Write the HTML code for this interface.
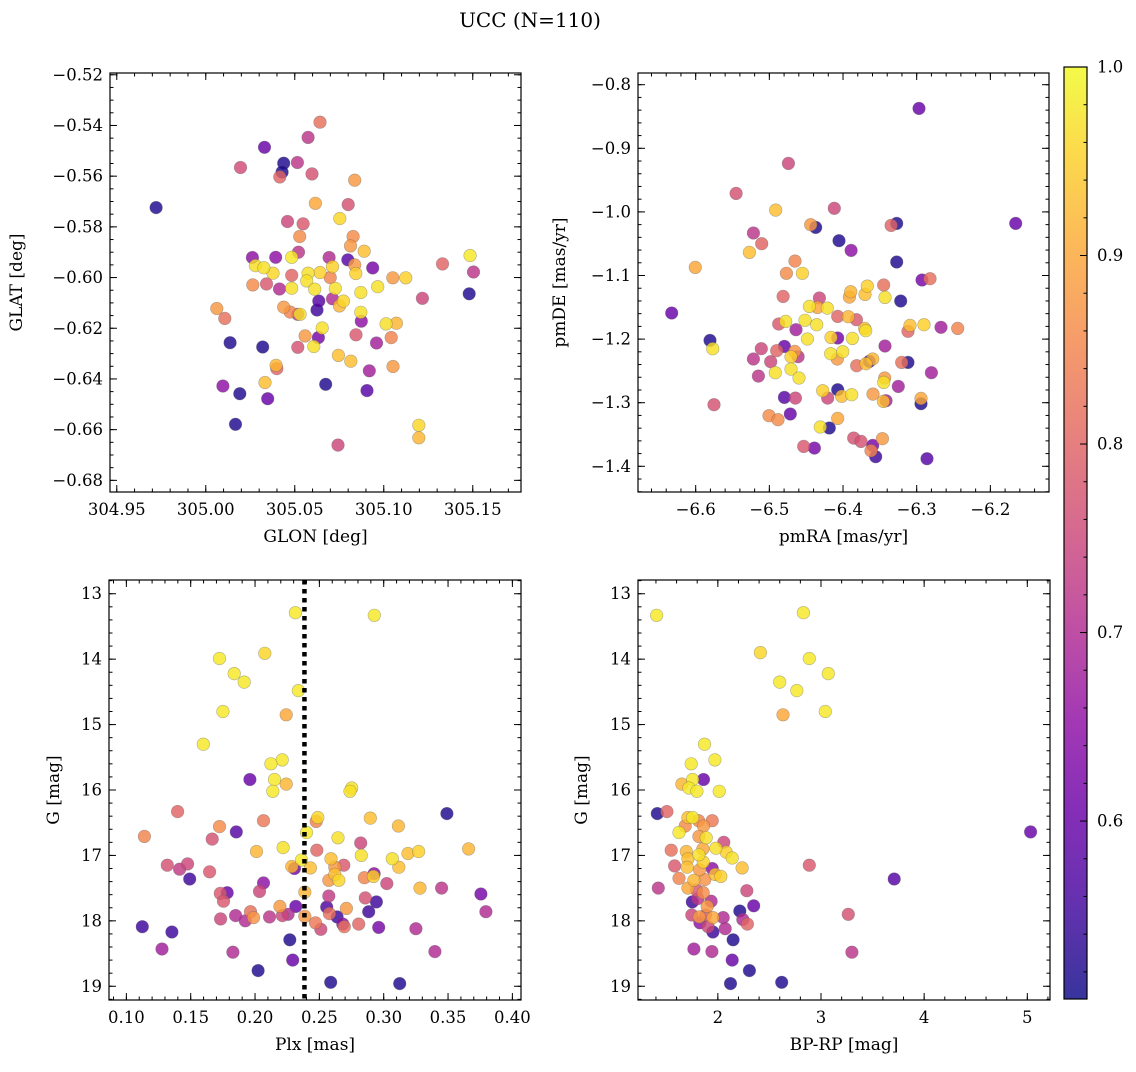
<!DOCTYPE html>
<html><head><meta charset="utf-8"><style>
body{margin:0;background:#fff;}
svg text{font-family:"DejaVu Serif","Liberation Serif",serif;fill:#000;}
</style></head><body>
<svg id="fig" width="1136" height="1067" viewBox="0 0 1136 1067" xmlns="http://www.w3.org/2000/svg">
<rect width="1136" height="1067" fill="#fff"/>
<text x="530" y="27" font-size="20" text-anchor="middle">UCC (N=110)</text>
</svg>
<script>
// ---------- Panel 1: GLON / GLAT ----------
const glonVals=[305.0642,305.0575,305.033,305.0438,305.0515,305.0195,305.0429,305.0416,305.0597,305.0837,304.9721,305.0616,305.080,305.0753,305.0459,305.0547,305.0528,305.0828,305.0813,305.089,305.0521,305.0262,305.0393,305.0483,305.0693,305.0798,305.1485,305.133,305.0279,305.0326,305.0378,305.0712,305.0837,305.0938,305.1504,305.0483,305.0575,305.0642,305.0699,305.0843,305.1051,305.1124,305.0264,305.0341,305.0414,305.0483,305.0567,305.0612,305.0728,305.0871,305.0966,305.148,305.1217,305.0635,305.0712,305.0773,305.0751,305.0438,305.0062,305.0625,305.0474,305.0517,305.053,305.0871,305.0107,305.0874,305.1013,305.1071,305.0654,305.0558,305.0633,305.0844,305.1042,305.0959,305.0137,305.032,305.0517,305.0607,305.0745,305.0815,305.0395,305.0399,305.0919,305.1052,305.0333,305.0674,305.0096,305.0191,305.0348,305.0906,305.0167,305.1197,305.1197,305.0743];
const glatVals=[-0.5387,-0.5447,-0.5486,-0.5549,-0.5546,-0.5566,-0.5584,-0.5603,-0.5591,-0.5616,-0.5724,-0.5707,-0.5712,-0.5767,-0.5779,-0.5788,-0.5838,-0.5838,-0.5875,-0.5896,-0.59,-0.5921,-0.592,-0.592,-0.5921,-0.593,-0.5913,-0.5946,-0.5953,-0.5961,-0.5983,-0.5957,-0.595,-0.5962,-0.5978,-0.5991,-0.5983,-0.598,-0.6,-0.5984,-0.6001,-0.6001,-0.6029,-0.6025,-0.6045,-0.6042,-0.6013,-0.6046,-0.6043,-0.6059,-0.6036,-0.6064,-0.6082,-0.6093,-0.6084,-0.6093,-0.6112,-0.6117,-0.6122,-0.6128,-0.6136,-0.6145,-0.6145,-0.6137,-0.6161,-0.6172,-0.6183,-0.618,-0.6199,-0.623,-0.6237,-0.6226,-0.6237,-0.6258,-0.6257,-0.6274,-0.6275,-0.6272,-0.6307,-0.633,-0.6346,-0.6359,-0.6368,-0.6351,-0.6414,-0.6421,-0.6428,-0.6458,-0.6478,-0.6446,-0.6579,-0.6583,-0.6632,-0.6661];
const prob1=[.82,.72,.6,.52,.72,.76,.52,.8,.77,.88,.52,.9,.77,.96,.75,.78,.86,.86,.88,.93,.72,.65,.65,.98,.7,.58,.98,.8,.97,.97,.96,.95,.88,.62,.72,.8,.97,.95,.85,.95,.88,.95,.86,.78,.7,.97,.97,.97,.97,.97,.97,.52,.75,.58,.7,.96,.92,.88,.88,.55,.85,.72,.97,.97,.82,.65,.97,.92,.97,.88,.62,.78,.85,.68,.52,.52,.77,.97,.93,.93,.92,.8,.68,.88,.93,.52,.65,.52,.6,.58,.52,.96,.92,.75];
const p1XTicks=[304.95,305.00,305.05,305.10,305.15];
const p1XLabels=["304.95","305.00","305.05","305.10","305.15"];
const p1YTicks=[-0.52,-0.54,-0.56,-0.58,-0.60,-0.62,-0.64,-0.66,-0.68];
const p1YLabels=["−0.52","−0.54","−0.56","−0.58","−0.60","−0.62","−0.64","−0.66","−0.68"];

// ---------- Panel 2: pmRA / pmDE ----------
const pmraVals=[-6.2968,-6.4742,-6.5452,-6.4914,-6.4118,-6.1656,-6.4439,-6.4371,-6.3271,-6.3348,-6.5217,-6.5104,-6.5271,-6.4054,-6.3891,-6.4652,-6.3271,-6.6005,-6.4769,-6.4552,-6.2928,-6.2819,-6.3448,-6.367,-6.3896,-6.3914,-6.3701,-6.343,-6.3217,-6.4814,-6.4321,-6.6326,-6.4457,-6.4348,-6.4213,-6.4072,-6.3928,-6.3819,-6.3706,-6.3692,-6.4873,-6.4778,-6.4516,-6.4357,-6.4638,-6.3091,-6.3118,-6.2901,-6.267,-6.2443,-6.5805,-6.5769,-6.5109,-6.4796,-6.4484,-6.4163,-6.4072,-6.3873,-6.343,-6.5217,-6.4982,-6.49,-6.4656,-6.4706,-6.461,-6.4167,-6.4077,-6.4005,-6.3814,-6.3688,-6.3643,-6.3597,-6.3118,-6.3204,-6.5149,-6.4919,-6.4706,-6.4597,-6.2801,-6.3434,-6.3448,-6.325,-6.5751,-6.4796,-6.4647,-6.4276,-6.4208,-6.4072,-6.4018,-6.3882,-6.3593,-6.3452,-6.3416,-6.2941,-6.2941,-6.5005,-6.4882,-6.4715,-6.4072,-6.4186,-6.4308,-6.4534,-6.4389,-6.3855,-6.3756,-6.3597,-6.362,-6.3557,-6.3466,-6.286];
const pmdeVals=[-0.8372,-0.9237,-0.9709,-0.9971,-0.9944,-1.018,-1.0201,-1.0243,-1.018,-1.0212,-1.0332,-1.05,-1.0636,-1.0453,-1.0605,-1.0773,-1.0788,-1.0872,-1.0966,-1.0966,-1.1071,-1.105,-1.115,-1.1166,-1.1255,-1.1339,-1.1297,-1.1344,-1.1401,-1.1328,-1.1354,-1.159,-1.1485,-1.1501,-1.1512,-1.1643,-1.1648,-1.1695,-1.1831,-1.1868,-1.1763,-1.1721,-1.1705,-1.1774,-1.1852,-1.1784,-1.1878,-1.1774,-1.1815,-1.1831,-1.202,-1.2151,-1.2151,-1.2114,-1.1999,-1.1973,-1.1983,-1.1989,-1.2109,-1.2313,-1.2355,-1.2182,-1.2193,-1.2277,-1.2277,-1.223,-1.2313,-1.2198,-1.2418,-1.2387,-1.235,-1.2313,-1.2366,-1.2366,-1.2581,-1.2528,-1.2471,-1.2612,-1.2528,-1.2612,-1.268,-1.2743,-1.3031,-1.2916,-1.2927,-1.2811,-1.2927,-1.2796,-1.29,-1.2874,-1.2864,-1.2979,-1.2969,-1.3016,-1.2932,-1.3204,-1.3267,-1.3178,-1.3246,-1.3398,-1.3382,-1.3687,-1.3713,-1.3556,-1.3608,-1.3671,-1.3755,-1.3849,-1.3566,-1.388];
const prob2=[.6,.75,.77,.93,.75,.6,.88,.52,.52,.8,.72,.8,.93,.52,.65,.85,.52,.9,.86,.95,.62,.82,.82,.95,.92,.9,.93,.97,.52,.8,.75,.6,.97,.9,.97,.8,.92,.78,.93,.97,.78,.97,.97,.97,.68,.93,.8,.95,.68,.85,.52,.97,.75,.6,.97,.95,.62,.97,.68,.72,.75,.8,.87,.95,.72,.97,.88,.97,.82,.93,.55,.92,.52,.82,.72,.97,.97,.97,.68,.88,.97,.68,.77,.58,.75,.95,.75,.52,.93,.97,.88,.93,.68,.52,.9,.86,.86,.6,.9,.52,.97,.78,.62,.77,.77,.62,.85,.55,.88,.58];
const p2XTicks=[-6.6,-6.5,-6.4,-6.3,-6.2];
const p2XLabels=["−6.6","−6.5","−6.4","−6.3","−6.2"];
const p2YTicks=[-0.8,-0.9,-1.0,-1.1,-1.2,-1.3,-1.4];
const p2YLabels=["−0.8","−0.9","−1.0","−1.1","−1.2","−1.3","−1.4"];

// ---------- Panel 3: Plx / G ----------
const plxVals=[0.2314,0.2927,0.1724,0.2076,0.1838,0.1916,0.2337,0.175,0.2242,0.1598,0.2211,0.2123,0.196,0.2151,0.2242,0.2138,0.2751,0.2738,0.3491,0.1398,0.2488,0.2475,0.2066,0.2896,0.1724,0.1854,0.3114,0.114,0.1667,0.24,0.2645,0.2821,0.2011,0.2218,0.248,0.2826,0.366,0.3189,0.3271,0.3067,0.1318,0.1476,0.1414,0.2361,0.2286,0.2307,0.243,0.259,0.262,0.269,0.3117,0.1647,0.1492,0.262,0.2573,0.2651,0.285,0.2925,0.292,0.3024,0.2066,0.2035,0.173,0.1784,0.1755,0.2387,0.2573,0.2857,0.2943,0.3282,0.345,0.3755,0.3794,0.2193,0.2317,0.2557,0.271,0.2883,0.1732,0.1849,0.1924,0.1965,0.1988,0.2112,0.2213,0.2257,0.2387,0.247,0.2511,0.2578,0.2638,0.2682,0.2694,0.2806,0.2961,0.325,0.1124,0.1354,0.1277,0.1828,0.227,0.2293,0.2024,0.2588,0.3124,0.3398];
const gPlxVals=[13.29,13.33,13.99,13.91,14.22,14.35,14.48,14.80,14.85,15.30,15.54,15.60,15.84,15.84,15.91,16.02,15.97,16.02,16.36,16.33,16.42,16.48,16.47,16.43,16.56,16.64,16.55,16.71,16.75,16.65,16.73,16.81,16.94,16.88,16.92,17.0,16.90,16.97,16.94,17.05,17.15,17.13,17.21,17.07,17.17,17.2,17.19,17.05,17.18,17.15,17.18,17.25,17.36,17.29,17.38,17.38,17.34,17.28,17.32,17.43,17.42,17.55,17.58,17.57,17.70,17.56,17.62,17.65,17.71,17.50,17.50,17.59,17.86,17.78,17.78,17.79,17.81,17.86,17.97,17.92,18.0,17.86,17.95,17.94,17.92,17.90,17.93,18.03,18.13,17.89,17.94,18.05,18.09,18.05,18.10,18.12,18.09,18.17,18.43,18.48,18.29,18.60,18.76,18.94,18.96,18.47];
const prob3=[.98,.98,.98,.96,.98,.98,.98,.98,.9,.98,.98,.98,.6,.98,.92,.98,.97,.97,.52,.8,.96,.85,.83,.93,.86,.58,.92,.85,.77,.98,.97,.75,.92,.97,.8,.97,.92,.93,.95,.97,.77,.75,.73,.98,.92,.62,.93,.93,.88,.78,.93,.78,.55,.93,.88,.96,.85,.65,.95,.75,.65,.75,.78,.6,.78,.92,.73,.77,.55,.92,.72,.62,.7,.88,.6,.57,.88,.55,.75,.7,.7,.82,.87,.72,.75,.7,.88,.83,.75,.82,.55,.65,.82,.8,.62,.7,.55,.55,.68,.7,.52,.6,.52,.52,.52,.7];
const plxLine=0.2384;
const p3XTicks=[0.10,0.15,0.20,0.25,0.30,0.35,0.40];
const p3XLabels=["0.10","0.15","0.20","0.25","0.30","0.35","0.40"];
const gTicks=[13,14,15,16,17,18,19];
const gLabels=["13","14","15","16","17","18","19"];

// ---------- Panel 4: BP-RP / G ----------
const bprpVals=[1.406,2.829,2.413,2.887,3.071,2.60,2.765,3.042,2.632,1.871,1.971,1.742,1.861,1.755,1.652,1.719,1.797,2.013,1.413,1.506,1.71,1.755,1.813,1.945,1.684,1.861,1.623,1.816,1.887,2.058,1.548,1.694,1.855,1.981,2.081,1.816,1.71,2.139,1.858,1.581,1.703,1.945,1.823,2.235,2.887,1.623,1.768,1.874,1.974,2.029,3.71,1.423,1.71,1.794,1.858,1.935,2.281,1.752,1.806,1.897,2.348,2.213,1.748,1.819,1.881,1.952,2.052,2.242,2.287,3.265,1.826,1.906,1.952,2.071,2.148,1.768,1.942,3.3,2.139,2.306,2.123,2.619,5.032];
const gCmdVals=[13.33,13.29,13.90,13.99,14.22,14.35,14.48,14.80,14.85,15.30,15.54,15.60,15.84,15.84,15.91,15.97,16.02,16.02,16.36,16.33,16.42,16.42,16.47,16.47,16.55,16.55,16.65,16.71,16.73,16.80,16.92,16.94,16.90,16.89,16.95,16.99,17.05,17.04,17.10,17.16,17.18,17.20,17.22,17.19,17.15,17.35,17.38,17.37,17.29,17.32,17.36,17.50,17.50,17.53,17.57,17.70,17.54,17.71,17.66,17.78,17.77,17.85,17.91,17.94,17.91,17.95,17.95,17.98,18.05,17.90,18.03,18.09,18.17,18.12,18.29,18.43,18.47,18.48,18.60,18.76,18.96,18.94,16.64];
const prob4=[.98,.98,.96,.98,.98,.98,.98,.98,.9,.98,.98,.98,.6,.98,.92,.98,.98,.98,.52,.8,.93,.98,.85,.83,.86,.88,.98,.88,.97,.75,.82,.92,.9,.97,.95,.97,.93,.97,.95,.78,.93,.65,.88,.93,.78,.85,.92,.87,.93,.95,.58,.72,.9,.78,.86,.7,.75,.55,.72,.88,.6,.52,.75,.88,.78,.9,.7,.7,.8,.77,.65,.75,.55,.7,.52,.68,.7,.72,.6,.52,.52,.52,.6];
const p4XTicks=[2,3,4,5];
const p4XLabels=["2","3","4","5"];

// ---------- colorbar ----------
const cbTicks=[0.6,0.7,0.8,0.9,1.0];
const cbLabels=["0.6","0.7","0.8","0.9","1.0"];
const vMin=0.5056, vMax=1.0;

const plasma=[[13,8,135],[65,4,157],[106,0,168],[143,13,164],[177,42,144],[204,71,120],[225,100,98],[242,132,75],[252,166,54],[252,206,37],[240,249,33]];
function cmap(v){
  let t=(v-vMin)/(vMax-vMin); t=Math.max(0,Math.min(1,t));
  const f=t*10, i=Math.min(9,Math.floor(f)), r=f-i;
  const a=plasma[i], b=plasma[i+1];
  return 'rgb('+a.map((c,k)=>Math.round(c+(b[k]-c)*r)).join(',')+')';
}
const NS='http://www.w3.org/2000/svg';
const svg=document.getElementById('fig');
function mk(tag,attrs,parent){const e=document.createElementNS(NS,tag);for(const k in attrs)e.setAttribute(k,attrs[k]);(parent||svg).appendChild(e);return e;}

function panel(cfg){
  const g=mk('g',{});
  
  
  const L=cfg.L,R=cfg.R,T=cfg.T,B=cfg.B;
  const sx=v=>L+(v-cfg.x0)/(cfg.x1-cfg.x0)*(R-L);
  const sy=cfg.invY? (v=>T+(v-cfg.y0)/(cfg.y1-cfg.y0)*(B-T)) : (v=>B-(v-cfg.y0)/(cfg.y1-cfg.y0)*(B-T));
  const idx=cfg.xs.map((_,i)=>i).filter(i=>i<cfg.ys.length&&i<cfg.ps.length).sort((a,b)=>cfg.ps[a]-cfg.ps[b]);
  const pts=mk('g',{},g);
  
  
  idx.forEach(i=>{
    const c=mk('circle',{cx:sx(cfg.xs[i]).toFixed(1),cy:sy(cfg.ys[i]).toFixed(1),r:6.3,fill:cmap(cfg.ps[i]),'fill-opacity':0.82,stroke:'rgba(90,90,90,0.45)','stroke-width':0.6},pts);
    
    
  });
  if(cfg.vline!==undefined){
    const l=mk('line',{x1:sx(cfg.vline),x2:sx(cfg.vline),y1:T,y2:B,stroke:'#000','stroke-width':4.5,'stroke-dasharray':'4.5 4.5'},g);
    
    
  }
  const fr=mk('rect',{x:L,y:T,width:R-L,height:B-T,fill:'none',stroke:'#000','stroke-width':1.2},g);
  
  
  const tk=mk('g',{stroke:'#000','stroke-width':1},g);
  const minorX=[],minorY=[];
  for(let v=Math.ceil(cfg.x0/cfg.mx-1e-6)*cfg.mx; v<=cfg.x1; v+=cfg.mx) minorX.push(v);
  const ylo=Math.min(cfg.y0,cfg.y1), yhi=Math.max(cfg.y0,cfg.y1);
  for(let v=Math.ceil(ylo/cfg.my-1e-6)*cfg.my; v<=yhi; v+=cfg.my) minorY.push(v);
  minorX.forEach(v=>{const x=sx(v);mk('line',{x1:x,x2:x,y1:B,y2:B-3.5},tk);mk('line',{x1:x,x2:x,y1:T,y2:T+3.5},tk);});
  minorY.forEach(v=>{const y=sy(v);mk('line',{x1:L,x2:L+3.5,y1:y,y2:y},tk);mk('line',{x1:R,x2:R-3.5,y1:y,y2:y},tk);});
  cfg.xt.forEach((v,i)=>{const x=sx(v);mk('line',{x1:x,x2:x,y1:B,y2:B-7},tk);mk('line',{x1:x,x2:x,y1:T,y2:T+7},tk);
    const t=mk('text',{x:x,y:B+23,'font-size':16.5,'text-anchor':'middle'},g);t.textContent=cfg.xl[i];
    
    });
  cfg.yt.forEach((v,i)=>{const y=sy(v);mk('line',{x1:L,x2:L+7,y1:y,y2:y},tk);mk('line',{x1:R,x2:R-7,y1:y,y2:y},tk);
    const t=mk('text',{x:L-7,y:y+5.5,'font-size':16.5,'text-anchor':'end'},g);t.textContent=cfg.yl[i];
    
    });
  const xt=mk('text',{x:(L+R)/2,y:B+50,'font-size':17,'text-anchor':'middle'},g);xt.textContent=cfg.xlabel;
  
  
  const yt=mk('text',{x:cfg.ylx,y:(T+B)/2,'font-size':17,'text-anchor':'middle',transform:'rotate(-90 '+cfg.ylx+' '+(T+B)/2+')'},g);yt.textContent=cfg.ylabel;
  
  
}

panel({name:'glon-glat-panel',L:110,R:521,T:73,B:492,x0:304.9462,x1:305.1771,y0:-0.6846,y1:-0.5193,invY:false,
  xs:glonVals,ys:glatVals,ps:prob1,xt:p1XTicks,xl:p1XLabels,yt:p1YTicks,yl:p1YLabels,mx:0.01,my:0.005,
  xlabel:'GLON [deg]',ylabel:'GLAT [deg]',ylx:22});
panel({name:'pm-panel',L:638,R:1049,T:73,B:492,x0:-6.6783,x1:-6.1204,y0:-1.4404,y1:-0.7816,invY:false,
  xs:pmraVals,ys:pmdeVals,ps:prob2,xt:p2XTicks,xl:p2XLabels,yt:p2YTicks,yl:p2YLabels,mx:0.02,my:0.02,
  xlabel:'pmRA [mas/yr]',ylabel:'pmDE [mas/yr]',ylx:565});
panel({name:'plx-g-panel',L:109,R:521,T:580,B:1000,x0:0.0865,x1:0.4067,y0:12.79,y1:19.21,invY:true,
  xs:plxVals,ys:gPlxVals,ps:prob3,xt:p3XTicks,xl:p3XLabels,yt:gTicks,yl:gLabels,mx:0.01,my:0.2,vline:plxLine,
  xlabel:'Plx [mas]',ylabel:'G [mag]',ylx:59});
panel({name:'cmd-panel',L:638,R:1050,T:580,B:1000,x0:1.226,x1:5.22,y0:12.79,y1:19.21,invY:true,
  xs:bprpVals,ys:gCmdVals,ps:prob4,xt:p4XTicks,xl:p4XLabels,yt:gTicks,yl:gLabels,mx:0.2,my:0.2,
  xlabel:'BP-RP [mag]',ylabel:'G [mag]',ylx:587});

(function(){
  const L=1064,R=1087,T=67,B=999;
  const defs=mk('defs',{});
  const grad=mk('linearGradient',{id:'cbg',x1:0,y1:1,x2:0,y2:0},defs);
  for(let k=0;k<=20;k++){const v=vMin+(vMax-vMin)*k/20;mk('stop',{offset:(k/20),'stop-color':cmap(v),'stop-opacity':0.82},grad);}
  const g=mk('g',{});
  
  
  mk('rect',{x:L,y:T,width:R-L,height:B-T,fill:'url(#cbg)',stroke:'#000','stroke-width':1.2},g);
  const sy=v=>B-(v-vMin)/(vMax-vMin)*(B-T);
  for(let v=0.52;v<1.0001;v+=0.02){const y=sy(v);mk('line',{x1:R,x2:R-3.5,y1:y,y2:y,stroke:'#000','stroke-width':1},g);}
  cbTicks.forEach((v,i)=>{const y=sy(v);mk('line',{x1:R,x2:R-7,y1:y,y2:y,stroke:'#000','stroke-width':1},g);
    const t=mk('text',{x:R+10,y:y+5.5,'font-size':16.5},g);t.textContent=cbLabels[i];
    
    });
})();
</script>
</body></html>
